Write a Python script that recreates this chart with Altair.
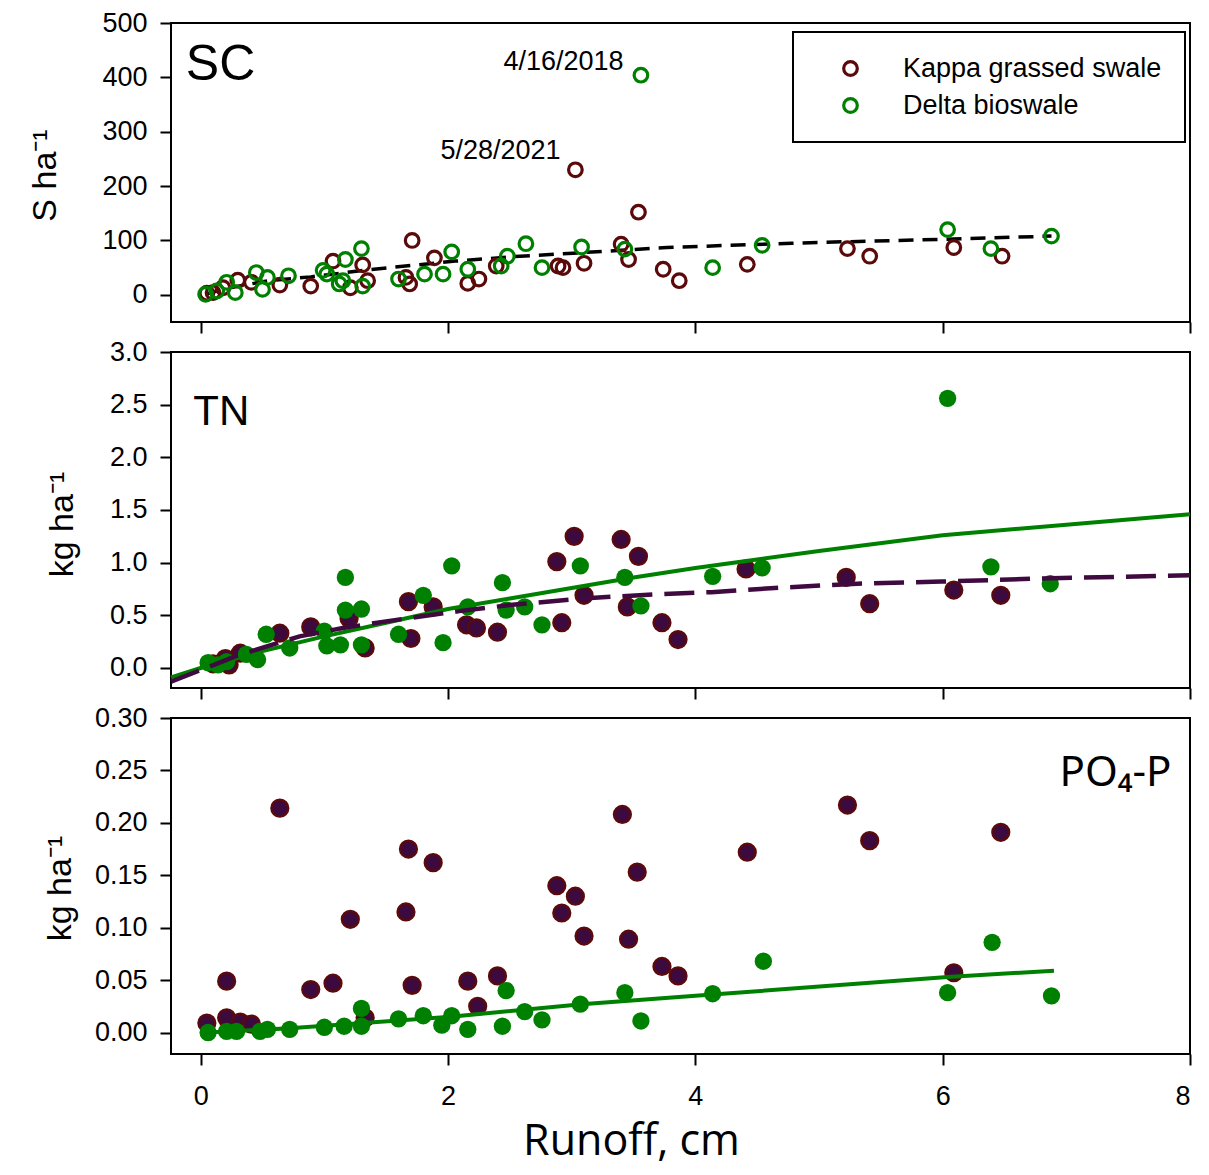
import altair as alt
import pandas as pd

# ---------------- data ----------------
sites = ["Kappa grassed swale", "Delta bioswale"]

# SC (S ha-1)
sc_kappa_x = [0.05, 0.10, 0.18, 0.30, 0.41, 0.64, 0.89, 1.07, 1.21, 1.31, 1.35, 1.66, 1.69, 1.71, 1.89,
              2.16, 2.25, 2.39, 2.89, 2.93, 3.03, 3.10, 3.40, 3.46, 3.54, 3.74, 3.87, 4.42, 5.23, 5.41,
              6.09, 6.48]
sc_kappa_y = [3, 4, 13, 27, 23, 18, 16, 62, 13, 55, 26, 32, 20, 100, 68,
              21, 29, 53, 53, 50, 230, 58, 93, 65, 152, 47, 26, 56, 85, 71,
              87, 71]
sc_delta_x = [0.04, 0.13, 0.21, 0.28, 0.45, 0.50, 0.54, 0.71, 0.99, 1.02, 1.12, 1.15, 1.17, 1.30, 1.31,
              1.60, 1.81, 1.96, 2.03, 2.16, 2.43, 2.48, 2.63, 2.76, 3.08, 3.43, 3.56, 4.14, 4.54, 6.04,
              6.39, 6.88]
sc_delta_y = [1, 7, 23, 4, 41, 10, 32, 35, 45, 38, 20, 26, 65, 85, 16,
              29, 38, 38, 79, 47, 53, 71, 94, 50, 88, 84, 404, 50, 91, 120,
              85, 108]
sc_fit_x = [0.04, 0.21, 0.55, 0.89, 1.35, 2.06, 2.52, 2.97, 3.40, 3.77, 4.78, 5.45, 5.99, 6.88]
sc_fit_y = [1, 12, 26, 33, 46, 62, 70, 76, 82, 87, 95, 99, 102, 108]

# TN (kg ha-1)
tn_kappa_x = [0.10, 0.20, 0.23, 0.32, 0.64, 0.89, 1.20, 1.33, 1.68, 1.70, 1.88, 2.15, 2.23, 2.40,
              2.88, 2.92, 3.02, 3.10, 3.40, 3.45, 3.54, 3.73, 3.86, 4.41, 5.22, 5.41, 6.09, 6.47]
tn_kappa_y = [0.04, 0.09, 0.03, 0.14, 0.33, 0.39, 0.47, 0.19, 0.63, 0.28, 0.58, 0.41, 0.38, 0.34,
              1.01, 0.43, 1.25, 0.69, 1.22, 0.58, 1.06, 0.43, 0.27, 0.94, 0.86, 0.61, 0.74, 0.69]
tn_delta_x = [0.06, 0.14, 0.21, 0.37, 0.46, 0.53, 0.72, 1.00, 1.02, 1.13, 1.17, 1.17, 1.30, 1.30,
              1.60, 1.80, 1.96, 2.03, 2.16, 2.44, 2.47, 2.62, 2.76, 3.07, 3.43, 3.56, 4.14, 4.54,
              6.04, 6.39, 6.87]
tn_delta_y = [0.05, 0.03, 0.06, 0.13, 0.08, 0.32, 0.19, 0.35, 0.21, 0.22, 0.86, 0.55, 0.56, 0.22,
              0.32, 0.69, 0.24, 0.97, 0.58, 0.81, 0.55, 0.58, 0.41, 0.97, 0.86, 0.59, 0.87, 0.95,
              2.56, 0.96, 0.80]
tn_delta_fit_x = [-0.24, 0.0, 0.5, 1.0, 1.5, 2.0, 2.5, 3.0, 3.5, 4.0, 4.5, 5.0, 6.0, 7.0, 8.0]
tn_delta_fit_y = [-0.09, 0.0, 0.16, 0.30, 0.43, 0.56, 0.66, 0.76, 0.86, 0.95, 1.03, 1.11, 1.26, 1.36, 1.46]
tn_kappa_fit_x = [-0.24, 0.0, 0.3, 0.8, 1.15, 1.66, 2.09, 2.52, 3.09, 3.67, 4.13, 4.64, 5.31, 5.99, 6.8, 8.0]
tn_kappa_fit_y = [-0.13, -0.02, 0.12, 0.30, 0.38, 0.47, 0.54, 0.60, 0.66, 0.70, 0.72, 0.76, 0.80, 0.82, 0.85, 0.88]

# PO4-P (kg ha-1)
p_kappa_x = [0.05, 0.21, 0.21, 0.32, 0.41, 0.64, 0.89, 1.07, 1.21, 1.33, 1.66, 1.68, 1.71, 1.88,
             2.16, 2.24, 2.40, 2.88, 2.92, 3.03, 3.10, 3.41, 3.46, 3.53, 3.73, 3.86, 4.42, 5.23,
             5.41, 6.09, 6.47]
p_kappa_y = [0.009, 0.014, 0.049, 0.010, 0.008, 0.214, 0.041, 0.047, 0.108, 0.014, 0.115, 0.175,
             0.045, 0.162, 0.049, 0.025, 0.054, 0.140, 0.114, 0.130, 0.092, 0.208, 0.089, 0.153,
             0.063, 0.054, 0.172, 0.217, 0.183, 0.057, 0.191]
p_delta_x = [0.06, 0.21, 0.29, 0.48, 0.54, 0.72, 1.00, 1.16, 1.30, 1.30, 1.60, 1.80, 1.95, 2.03,
             2.16, 2.44, 2.47, 2.62, 2.76, 3.07, 3.43, 3.56, 4.14, 4.55, 6.04, 6.40, 6.88]
p_delta_y = [0.000, 0.001, 0.001, 0.001, 0.003, 0.003, 0.005, 0.006, 0.023, 0.006, 0.013, 0.016,
             0.007, 0.016, 0.003, 0.006, 0.040, 0.020, 0.012, 0.027, 0.038, 0.011, 0.037, 0.068,
             0.038, 0.086, 0.035]
p_fit_x = [0.05, 0.72, 2.02, 3.08, 4.11, 6.04, 6.90]
p_fit_y = [0.000, 0.004, 0.015, 0.027, 0.036, 0.053, 0.059]

x_ticks = [0, 2, 4, 6, 8]
sc_ticks = [0, 100, 200, 300, 400, 500]
tn_ticks = [0.0, 0.5, 1.0, 1.5, 2.0, 2.5, 3.0]
p_ticks = [0.00, 0.05, 0.10, 0.15, 0.20, 0.25, 0.30]

sc_notes = ["4/16/2018", "5/28/2021"]
sc_notes_x = [3.42, 2.91]
sc_notes_y = [414, 249]

# ---------------- styling ----------------
BROWN = "#5a0a0a"
PURPLE_FILL = "#3c0a3e"
PURPLE_LINE = "#3f0a40"
GREEN = "#008000"
W = 1019
XDOM = [-0.24, 8]
TICK_FONT = "Liberation Sans"

def x_axis(labels=False):
    if labels:
        return alt.Axis(values=x_ticks, labels=True, title="Runoff, cm", tickSize=11, tickWidth=2,
                        tickColor="black", domain=False, grid=False, labelFont=TICK_FONT,
                        labelFontSize=27, labelColor="black", labelPadding=18, format="d",
                        labelFlush=True,
                        titleFont="Open Sans", titleFontSize=43, titleFontWeight="normal",
                        titleColor="black", titleX=460, titleY=100, titleBaseline="alphabetic")
    return alt.Axis(values=x_ticks, labels=False, title=None, tickSize=11, tickWidth=2,
                    tickColor="black", domain=False, grid=False)

def y_axis(values, fmt, title, tx, ty):
    return alt.Axis(values=values, format=fmt, title=title, tickSize=11, tickWidth=2,
                    tickColor="black", domain=False, grid=False, labelFont=TICK_FONT,
                    labelFontSize=27, labelColor="black", labelPadding=13,
                    titleFont="Liberation Sans", titleFontSize=34, titleFontWeight="normal",
                    titleColor="black", titleAngle=270, titleX=tx, titleY=ty,
                    titleBaseline="middle", titleAlign="center")

xs = alt.Scale(domain=XDOM, nice=False, zero=False)

# ---------------- top panel: SC ----------------
sc_df = pd.concat([
    pd.DataFrame({"Runoff": sc_kappa_x, "Value": sc_kappa_y, "Site": sites[0]}),
    pd.DataFrame({"Runoff": sc_delta_x, "Value": sc_delta_y, "Site": sites[1]}),
], ignore_index=True)
sc_ys = alt.Scale(domain=[-50, 500], nice=False, zero=False)

sc_pts = alt.Chart(sc_df).mark_point(filled=False, size=185, strokeWidth=3.2, opacity=1).encode(
    x=alt.X("Runoff:Q", scale=xs, axis=x_axis(False)),
    y=alt.Y("Value:Q", scale=sc_ys, axis=y_axis(sc_ticks, "d", "S ha⁻¹", -126, 152)),
    color=alt.Color("Site:N", scale=alt.Scale(domain=sites, range=[BROWN, GREEN]),
                    legend=alt.Legend(title=None, orient="none", legendX=622, legendY=9,
                                      fillColor="white", strokeColor="black", padding=23,
                                      symbolType="circle", symbolSize=185, symbolStrokeWidth=3.2,
                                      symbolOffset=21, labelOffset=39, labelFont="Liberation Sans",
                                      labelFontSize=27, labelColor="black", rowPadding=9,
                                      labelLimit=500)),
)
sc_fit = alt.Chart(pd.DataFrame({"Runoff": sc_fit_x, "Value": sc_fit_y})).mark_line(
    color="black", strokeWidth=3.5, strokeDash=[15, 9]).encode(
    x=alt.X("Runoff:Q", scale=xs), y=alt.Y("Value:Q", scale=sc_ys))
sc_note = alt.Chart(pd.DataFrame({"Runoff": sc_notes_x, "Value": sc_notes_y, "t": sc_notes})).mark_text(
    align="right", baseline="alphabetic", font="Liberation Sans", fontSize=27, color="black").encode(
    x=alt.X("Runoff:Q", scale=xs), y=alt.Y("Value:Q", scale=sc_ys), text="t:N")
sc_lab = alt.Chart(pd.DataFrame({"Runoff": [-0.12], "Value": [396], "t": ["SC"]})).mark_text(
    align="left", baseline="alphabetic", font="Liberation Sans", fontSize=50, color="black").encode(
    x=alt.X("Runoff:Q", scale=xs), y=alt.Y("Value:Q", scale=sc_ys), text="t:N")

top = alt.layer(sc_fit, sc_pts, sc_note, sc_lab).properties(width=W, height=299)

# ---------------- middle panel: TN ----------------
tn_ys = alt.Scale(domain=[-0.19, 3.0], nice=False, zero=False)
tn_k = alt.Chart(pd.DataFrame({"Runoff": tn_kappa_x, "Value": tn_kappa_y})).mark_circle(
    size=280, color=PURPLE_FILL, stroke=BROWN, strokeWidth=2.5, opacity=1).encode(
    x=alt.X("Runoff:Q", scale=xs, axis=x_axis(False)),
    y=alt.Y("Value:Q", scale=tn_ys, axis=y_axis(tn_ticks, ".1f", "kg ha⁻¹", -109, 172)))
tn_d = alt.Chart(pd.DataFrame({"Runoff": tn_delta_x, "Value": tn_delta_y})).mark_circle(
    size=300, color=GREEN, opacity=1).encode(
    x=alt.X("Runoff:Q", scale=xs), y=alt.Y("Value:Q", scale=tn_ys))
tn_fd = alt.Chart(pd.DataFrame({"Runoff": tn_delta_fit_x, "Value": tn_delta_fit_y})).mark_line(
    color=GREEN, strokeWidth=4).encode(
    x=alt.X("Runoff:Q", scale=xs), y=alt.Y("Value:Q", scale=tn_ys))
tn_fk = alt.Chart(pd.DataFrame({"Runoff": tn_kappa_fit_x, "Value": tn_kappa_fit_y})).mark_line(
    color=PURPLE_LINE, strokeWidth=4.5, strokeDash=[30, 12]).encode(
    x=alt.X("Runoff:Q", scale=xs), y=alt.Y("Value:Q", scale=tn_ys))
tn_lab = alt.Chart(pd.DataFrame({"Runoff": [-0.06], "Value": [2.31], "t": ["TN"]})).mark_text(
    align="left", baseline="alphabetic", font="Liberation Sans", fontSize=42, color="black").encode(
    x=alt.X("Runoff:Q", scale=xs), y=alt.Y("Value:Q", scale=tn_ys), text="t:N")

mid = alt.layer(tn_k, tn_d, tn_fd, tn_fk, tn_lab).properties(width=W, height=336)

# ---------------- bottom panel: PO4-P ----------------
p_ys = alt.Scale(domain=[-0.0205, 0.30], nice=False, zero=False)
p_k = alt.Chart(pd.DataFrame({"Runoff": p_kappa_x, "Value": p_kappa_y})).mark_circle(
    size=280, color=PURPLE_FILL, stroke=BROWN, strokeWidth=2.5, opacity=1).encode(
    x=alt.X("Runoff:Q", scale=xs, axis=x_axis(True)),
    y=alt.Y("Value:Q", scale=p_ys, axis=y_axis(p_ticks, ".2f", "kg ha⁻¹", -111, 170)))
p_d = alt.Chart(pd.DataFrame({"Runoff": p_delta_x, "Value": p_delta_y})).mark_circle(
    size=300, color=GREEN, opacity=1).encode(
    x=alt.X("Runoff:Q", scale=xs), y=alt.Y("Value:Q", scale=p_ys))
p_fit = alt.Chart(pd.DataFrame({"Runoff": p_fit_x, "Value": p_fit_y})).mark_line(
    color=GREEN, strokeWidth=4).encode(
    x=alt.X("Runoff:Q", scale=xs), y=alt.Y("Value:Q", scale=p_ys))
p_lab = alt.Chart(pd.DataFrame({"Runoff": [7.85], "Value": [0.2355], "t": ["PO₄-P"]})).mark_text(
    align="right", baseline="alphabetic", font="Noto Sans", fontSize=42, color="black").encode(
    x=alt.X("Runoff:Q", scale=xs), y=alt.Y("Value:Q", scale=p_ys), text="t:N")

bot = alt.layer(p_k, p_d, p_fit, p_lab).properties(width=W, height=336)

chart = alt.vconcat(top, mid, bot, spacing=30, bounds="flush").resolve_scale(
    color="independent"
).properties(
    padding={"left": 19, "top": 0, "right": 0, "bottom": 6}, background="white"
).configure_view(stroke="black", strokeWidth=2).configure_legend(strokeWidth=2)

chart.save("out.html", embed_options={"renderer": "svg", "actions": False})
